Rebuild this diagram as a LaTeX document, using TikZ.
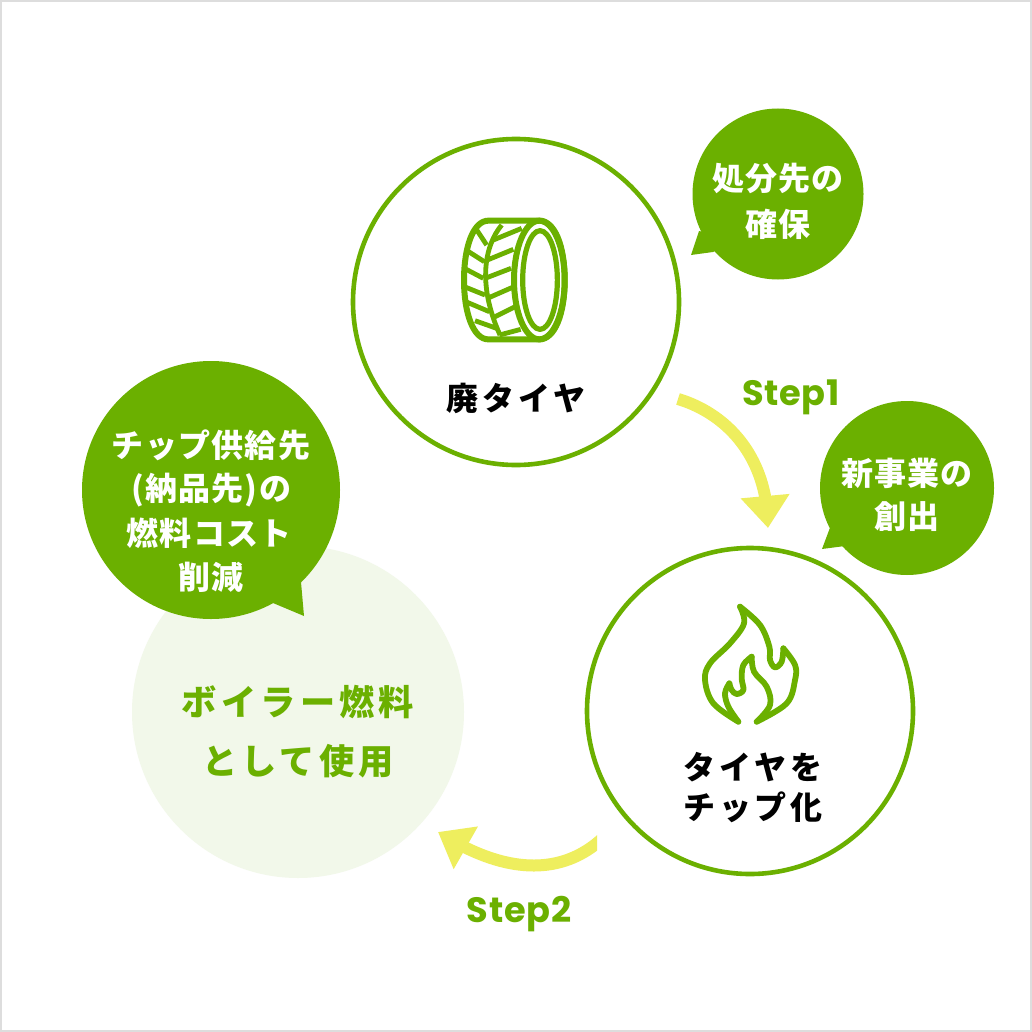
\documentclass[tikz,border=0pt]{standalone}
\usepackage{fontspec}
\usetikzlibrary{arrows.meta,bending}
\newfontfamily\jpa[LetterSpace=12]{Noto Sans CJK JP}
\newfontfamily\jpb[LetterSpace=4]{Noto Sans CJK JP}
\newfontfamily\stepf[LetterSpace=2]{Poppins}
\definecolor{leaf}{HTML}{6BB000}
\definecolor{sun}{HTML}{EEEE5E}
\definecolor{pale}{HTML}{F2F8EA}
\definecolor{frame}{HTML}{DDDDDD}
\tikzset{
  x=0.5pt,y=-0.5pt,
  ring/.style={circle,draw=leaf,fill=white,line width=2.3pt,inner sep=0pt,minimum size=163pt},
  pale disc/.style={circle,fill=pale,inner sep=0pt,minimum size=166pt},
  bubble/.style={circle,fill=leaf,inner sep=0pt},
  blabel/.style={text=white,font=\jpb\bfseries\fontsize{16}{18}\selectfont,inner sep=0pt},
  dlabel/.style={text=black,font=\jpa\bfseries\fontsize{16}{18}\selectfont,inner sep=0pt},
  glabel/.style={text=leaf,font=\jpa\bfseries\fontsize{17.6}{20}\selectfont,inner sep=0pt},
  steplabel/.style={text=leaf,font=\stepf\bfseries\fontsize{17.6}{20}\selectfont,inner sep=0pt},
  flow/.style={draw=sun,line width=6pt,-{Triangle[width=23.5pt,length=16pt,flex=1]}},
  icon/.style={draw=leaf,line width=2.9pt,line join=round,line cap=round},
  tread/.style={draw=leaf,line width=2.4pt,line cap=butt},
}
\begin{document}
\begin{tikzpicture}
\useasboundingbox (0,0) rectangle (1032,1032);
\fill[white] (0,0) rectangle (1032,1032);
\draw[frame,line width=1pt] (1,1) rectangle (1031,1031);

% main discs
\node[pale disc] (use) at (298,712) {};
\node[ring] (waste) at (516,302) {};
\node[ring] (chip) at (750,711) {};

% bubbles
\fill[leaf] (699,231) -- (691,255) -- (713,252) -- (740,240) -- cycle;
\node[bubble,minimum size=85.5pt] (b1) at (778,194) {};
\fill[leaf] (831,525) -- (822,549) -- (845,546) -- (870,530) -- cycle;
\node[bubble,minimum size=87pt] (b2) at (907,488) {};
\fill[leaf] (301,582) -- (304,616) -- (273,603) -- (250,580) -- cycle;
\node[bubble,minimum size=129pt] (b3) at (211,490) {};

% bubble text
\node[blabel] (t1a) at (778,178) {処分先の};
\node[blabel] (t1b) at (778,224) {確保};
\node[blabel] (t2a) at (907,473) {新事業の};
\node[blabel] (t2b) at (907,517) {創出};
\node[blabel] (t3a) at (211,445) {チップ供給先};
\node[blabel] (t3b) at (211,490) {(納品先)の};
\node[blabel] (t3c) at (209,533) {燃料コスト};
\node[blabel] (t3d) at (211,577) {削減};

% disc text
\node[dlabel] (wl) at (516,398) {廃タイヤ};
\node[dlabel] (cl1) at (753,767) {タイヤを};
\node[dlabel] (cl2) at (753,807) {チップ化};
\node[glabel] (ul1) at (298,702) {ボイラー燃料};
\node[glabel] (ul2) at (298,761) {として使用};

% steps
\node[steplabel] (s1) at (791,397) {Step1};
\node[steplabel] (s2) at (519,914) {Step2};

% connectors
\coordinate (a1s) at (678,399);
\coordinate (a1e) at (768,528);
\coordinate (a2s) at (605,836);
\coordinate (a2e) at (438,832);
\draw[flow] (a1s) .. controls (725,413) and (768,455) .. (a1e);
\begin{scope}
  \clip (420,810) rectangle (597,890);
  \draw[flow] (a2s) .. controls (565,875) and (508,877) .. (a2e);
\end{scope}

% tyre
\begin{scope}[shift={(430,190)},x=0.1667pt,y=-0.1667pt]
  \draw[icon,line width=3pt] (175,92) -- (328,92)
     .. controls (375,92) and (404,170) .. (404,270)
     .. controls (404,370) and (375,448) .. (328,448)
     -- (175,448)
     .. controls (130,448) and (102,370) .. (102,270)
     .. controls (102,170) and (130,92) .. (175,92) -- cycle;
  \draw[icon,line width=3pt] (328,270) ellipse [x radius=76,y radius=178];
  \draw[icon,line width=2.6pt] (330,270) ellipse [x radius=52,y radius=148];
  \draw[tread] (215,105) .. controls (165,165) and (140,280) .. (210,435);
  \foreach \a/\b/\c/\d in {
    170/165/135/112, 163/215/108/180, 160/265/103/235, 165/315/103/290, 178/365/112/337, 200/415/135/392,
    190/150/275/115, 172/210/250/178, 165/265/243/235, 172/325/245/293, 185/385/255/350, 208/435/272/418}
    \draw[tread] (\a,\b) -- (\c,\d);
\end{scope}

% flame
\begin{scope}[shift={(680,590)},x=0.1667pt,y=-0.1667pt]
  \draw[icon] plot[smooth,tension=0.6] coordinates {(180,50) (240,105) (268,170) (270,210) (285,232) (305,215) (310,175)};
  \draw[icon] plot[smooth,tension=0.6] coordinates {(310,175) (345,225) (345,270) (320,340) (230,395)};
  \draw[icon] plot[smooth,tension=0.6] coordinates {(180,50) (192,100) (150,160) (90,220) (75,270) (100,340) (175,395)};
  \draw[icon] plot[smooth,tension=0.6] coordinates {(230,395) (270,345) (260,290) (222,245) (215,200)};
  \draw[icon] plot[smooth,tension=0.6] coordinates {(215,200) (190,225) (185,265) (190,300) (170,312) (155,300) (148,280)};
  \draw[icon] plot[smooth,tension=0.6] coordinates {(148,280) (135,310) (145,350) (175,395)};
\end{scope}
\end{tikzpicture}
\end{document}
